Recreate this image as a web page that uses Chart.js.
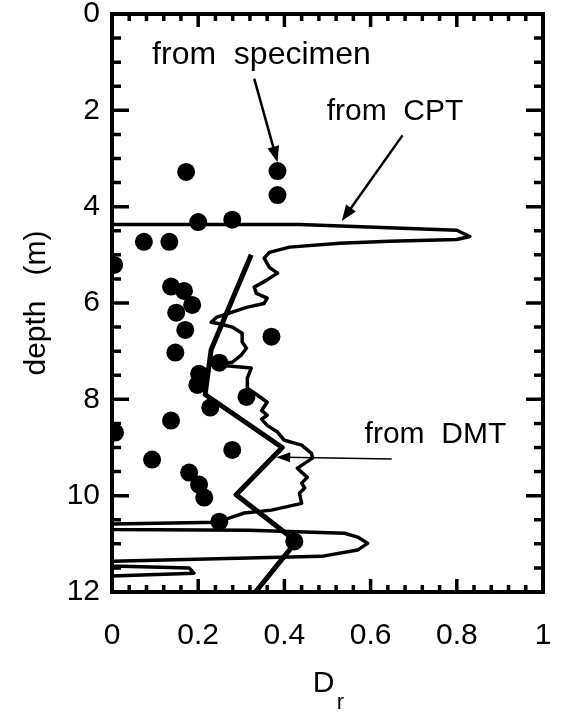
<!DOCTYPE html>
<html>
<head>
<meta charset="utf-8">
<script src="https://cdn.jsdelivr.net/npm/chart.js@4"></script>
<style>
  html, body { margin: 0; padding: 0; background: #fff; }
  canvas { display: block; }
</style>
</head>
<body>
<canvas id="chart" width="562" height="713"></canvas>
<script>
const xTickLabels = ["0", "0.2", "0.4", "0.6", "0.8", "1"];
const yTickLabels = ["0", "2", "4", "6", "8", "10", "12"];

// specimens (dots)
const specimenDr = [0.172, 0.384, 0.384, 0.200, 0.279, 0.074, 0.133, 0.005, 0.137, 0.167,
  0.186, 0.149, 0.170, 0.370, 0.147, 0.249, 0.202, 0.198, 0.312, 0.228,
  0.137, 0.007, 0.279, 0.093, 0.179, 0.202, 0.214, 0.249, 0.423];
const specimenDepth = [3.28, 3.26, 3.76, 4.32, 4.27, 4.73, 4.73, 5.21, 5.66, 5.75,
  6.04, 6.20, 6.56, 6.70, 7.03, 7.24, 7.47, 7.70, 7.95, 8.17,
  8.44, 8.69, 9.05, 9.25, 9.52, 9.77, 10.04, 10.54, 10.95];

// CPT profile
const cptDr = [0.0, 0.435, 0.80, 0.83, 0.80, 0.644, 0.528, 0.412, 0.365, 0.353,
  0.365, 0.384, 0.358, 0.330, 0.335, 0.360, 0.353, 0.312, 0.279, 0.242,
  0.230, 0.249, 0.279, 0.302, 0.302, 0.312, 0.300, 0.279, 0.226, 0.323,
  0.314, 0.314, 0.337, 0.360, 0.347, 0.360, 0.347, 0.360, 0.384, 0.400,
  0.440, 0.463, 0.465, 0.447, 0.430, 0.453, 0.440, 0.447, 0.435, 0.440,
  0.370, 0.307, 0.277, 0.244, 0.0, 0.0, 0.319, 0.540, 0.570, 0.593,
  0.570, 0.486, 0.0, 0.0, 0.179, 0.190, 0.0];
const cptDepth = [4.37, 4.37, 4.49, 4.62, 4.68, 4.72, 4.76, 4.84, 4.95, 5.07,
  5.26, 5.38, 5.53, 5.67, 5.80, 5.90, 6.01, 6.09, 6.19, 6.30,
  6.40, 6.43, 6.50, 6.63, 6.81, 6.94, 7.08, 7.23, 7.27, 7.35,
  7.56, 7.77, 7.91, 8.06, 8.23, 8.33, 8.41, 8.54, 8.68, 8.85,
  8.95, 9.12, 9.22, 9.33, 9.43, 9.62, 9.74, 9.84, 9.95, 10.16,
  10.30, 10.36, 10.45, 10.55, 10.59, 10.70, 10.72, 10.78, 10.86, 10.99,
  11.13, 11.26, 11.36, 11.46, 11.50, 11.61, 11.67];

// DMT profile
const dmtDr = [0.323, 0.230, 0.216, 0.395, 0.288, 0.428, 0.333];
const dmtDepth = [5.0, 6.97, 7.9, 9.0, 9.98, 10.95, 12.0];

const FONT = '"Liberation Sans", Arial, sans-serif';

function pts(xs, ys) {
  return xs.map((x, i) => ({ x: x, y: ys[i] }));
}

function arrow(ctx, x1, y1, x2, y2, w, head, half) {
  const a = Math.atan2(y2 - y1, x2 - x1);
  ctx.lineWidth = w;
  ctx.beginPath();
  ctx.moveTo(x1, y1);
  ctx.lineTo(x2 - Math.cos(a) * head * 0.6, y2 - Math.sin(a) * head * 0.6);
  ctx.stroke();
  ctx.beginPath();
  ctx.moveTo(x2, y2);
  ctx.lineTo(x2 - Math.cos(a) * head - Math.sin(a) * half, y2 - Math.sin(a) * head + Math.cos(a) * half);
  ctx.lineTo(x2 - Math.cos(a) * head + Math.sin(a) * half, y2 - Math.sin(a) * head - Math.cos(a) * half);
  ctx.closePath();
  ctx.fill();
}

const decor = {
  id: "decor",
  afterDraw(chart) {
    const ctx = chart.ctx;
    const a = chart.chartArea;
    const xs = chart.scales.x, ys = chart.scales.y;
    const X = v => xs.getPixelForValue(v), Y = v => ys.getPixelForValue(v);
    ctx.save();
    ctx.strokeStyle = "#000";
    ctx.fillStyle = "#000";

    // frame
    ctx.lineWidth = 4;
    ctx.strokeRect(a.left, a.top, a.right - a.left, a.bottom - a.top);

    // inward ticks
    ctx.lineWidth = 3.5;
    ctx.beginPath();
    for (let i = 1; i < 25; i++) {
      const px = X(i * 0.04);
      const len = i % 5 === 0 ? 13 : 7;
      ctx.moveTo(px, a.top); ctx.lineTo(px, a.top + len);
      ctx.moveTo(px, a.bottom); ctx.lineTo(px, a.bottom - len);
    }
    for (let i = 1; i < 24; i++) {
      const py = Y(i * 0.5);
      const len = i % 4 === 0 ? 17 : 9;
      ctx.moveTo(a.left, py); ctx.lineTo(a.left + len, py);
      ctx.moveTo(a.right, py); ctx.lineTo(a.right - len, py);
    }
    ctx.stroke();

    // axis titles
    ctx.font = "30px " + FONT;
    ctx.textAlign = "center";
    ctx.textBaseline = "middle";
    ctx.save();
    ctx.translate(37, (a.top + a.bottom) / 2);
    ctx.rotate(-Math.PI / 2);
    ctx.fillText("depth   (m)", 0, 0);
    ctx.restore();
    const cx = (a.left + a.right) / 2;
    ctx.fillText("D", cx - 4, 684);
    ctx.font = "22px " + FONT;
    ctx.fillText("r", cx + 13, 703);

    // annotations
    ctx.textAlign = "left";
    ctx.textBaseline = "alphabetic";
    ctx.font = "32px " + FONT;
    ctx.fillText("from  specimen", X(0.093), Y(1.03));
    ctx.font = "30px " + FONT;
    ctx.fillText("from  CPT", X(0.498), Y(2.21));
    ctx.fillText("from  DMT", X(0.586), Y(8.91));

    arrow(ctx, X(0.33), Y(1.34), X(0.384), Y(3.08), 2.5, 16, 6);
    arrow(ctx, X(0.674), Y(2.52), X(0.533), Y(4.3), 2.5, 16, 6);
    arrow(ctx, X(0.649), Y(9.24), X(0.381), Y(9.2), 1.5, 14, 5);
    ctx.restore();
  }
};

new Chart(document.getElementById("chart"), {
  type: "scatter",
  data: {
    datasets: [
      {
        label: "from specimen",
        data: pts(specimenDr, specimenDepth),
        pointRadius: 9,
        pointBackgroundColor: "#000",
        pointBorderWidth: 0,
        showLine: false
      },
      {
        label: "from CPT",
        data: pts(cptDr, cptDepth),
        showLine: true,
        pointRadius: 0,
        borderColor: "#000",
        borderWidth: 3.5,
        borderJoinStyle: "round",
        tension: 0
      },
      {
        label: "from DMT",
        data: pts(dmtDr, dmtDepth),
        showLine: true,
        pointRadius: 0,
        borderColor: "#000",
        borderWidth: 5,
        borderJoinStyle: "round",
        tension: 0
      }
    ]
  },
  options: {
    responsive: false,
    animation: false,
    devicePixelRatio: 1,
    layout: { padding: { top: 14, right: 19, left: 0, bottom: 0 } },
    plugins: { legend: { display: false }, tooltip: { enabled: false } },
    scales: {
      x: {
        type: "linear",
        min: 0, max: 1,
        grid: { display: false, drawTicks: false },
        border: { display: false },
        ticks: {
          stepSize: 0.2,
          padding: 26,
          color: "#000",
          font: { family: FONT, size: 30 },
          callback: v => xTickLabels[Math.round(v / 0.2)]
        },
        afterFit: s => { s.height = 121; s.paddingLeft = 0; s.paddingRight = 0; }
      },
      y: {
        type: "linear",
        min: 0, max: 12,
        reverse: true,
        grid: { display: false, drawTicks: false },
        border: { display: false },
        ticks: {
          stepSize: 2,
          padding: 12,
          color: "#000",
          font: { family: FONT, size: 30 },
          callback: v => yTickLabels[Math.round(v / 2)]
        },
        afterFit: s => { s.width = 112; s.paddingTop = 0; s.paddingBottom = 0; }
      }
    }
  },
  plugins: [decor]
});
</script>
</body>
</html>
